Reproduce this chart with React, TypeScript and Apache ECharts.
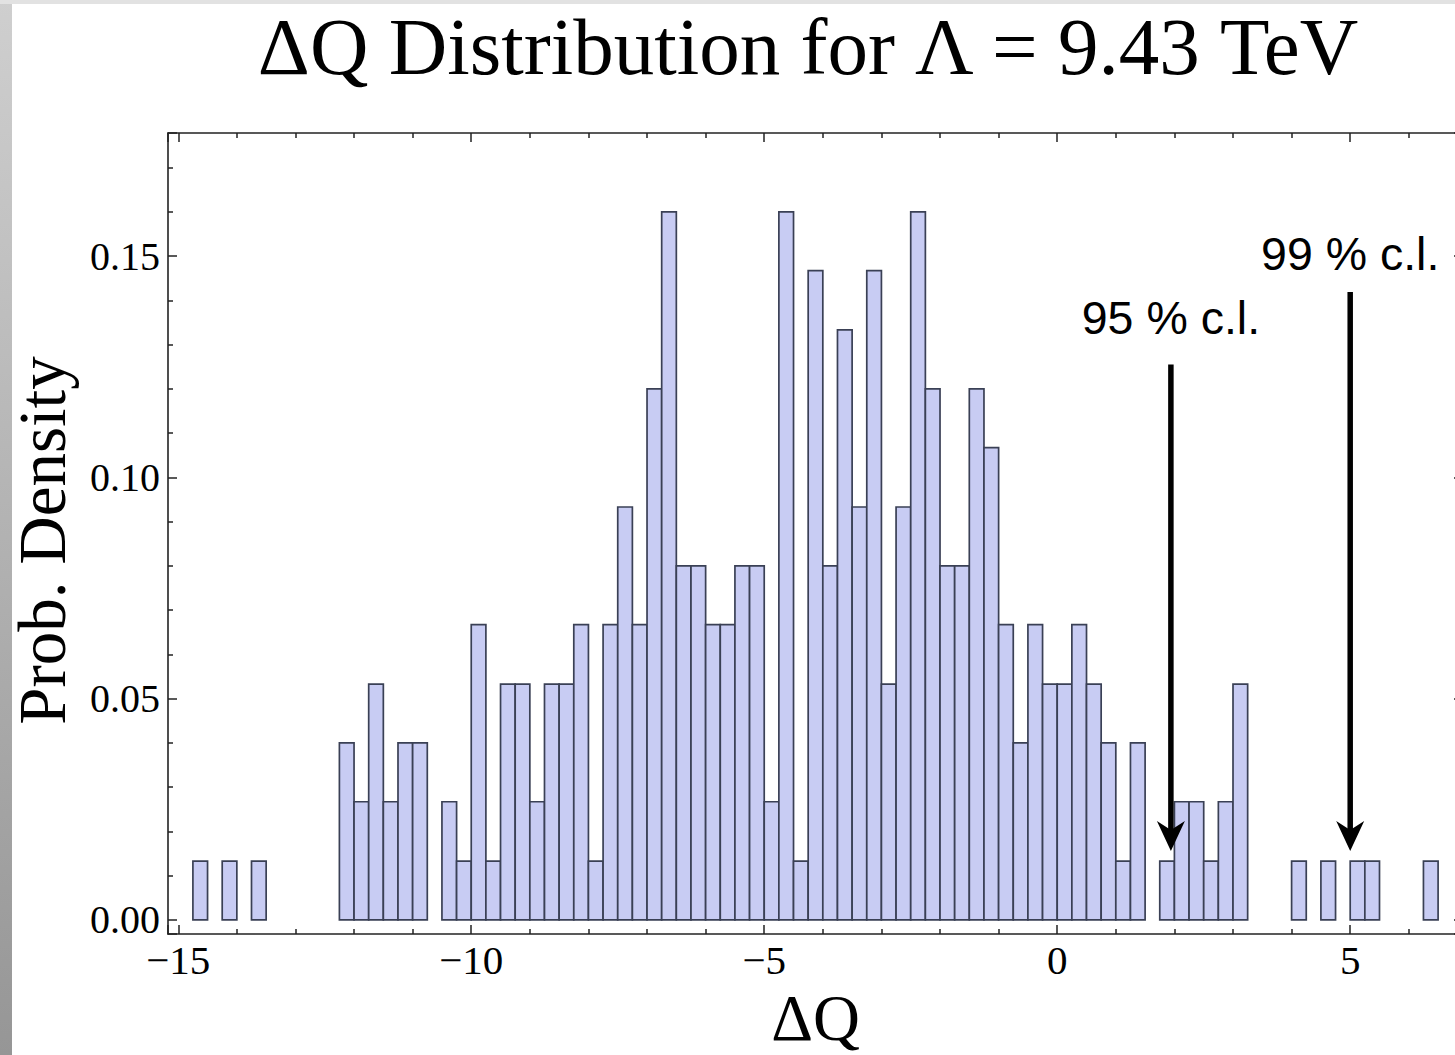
import { useEffect, useRef } from 'react';
import * as echarts from 'echarts';

// ---------- data ----------
const BIN_WIDTH = 0.25;
const binStarts = [
  -14.75, -14.25, -13.75,
  -12.25, -12, -11.75, -11.5, -11.25, -11,
  -10.5, -10.25, -10, -9.75, -9.5, -9.25, -9, -8.75, -8.5, -8.25, -8, -7.75,
  -7.5, -7.25, -7, -6.75, -6.5, -6.25, -6, -5.75, -5.5, -5.25, -5, -4.75,
  -4.5, -4.25, -4, -3.75, -3.5, -3.25, -3, -2.75, -2.5, -2.25, -2, -1.75,
  -1.5, -1.25, -1, -0.75, -0.5, -0.25, 0, 0.25, 0.5, 0.75, 1, 1.25,
  1.75, 2, 2.25, 2.5, 2.75, 3,
  4, 4.5, 5, 5.25, 6.25,
];
const densities = [
  0.0133, 0.0133, 0.0133,
  0.04, 0.0267, 0.0533, 0.0267, 0.04, 0.04,
  0.0267, 0.0133, 0.0667, 0.0133, 0.0533, 0.0533, 0.0267, 0.0533, 0.0533, 0.0667, 0.0133, 0.0667,
  0.0933, 0.0667, 0.12, 0.16, 0.08, 0.08, 0.0667, 0.0667, 0.08, 0.08, 0.0267, 0.16,
  0.0133, 0.1467, 0.08, 0.1333, 0.0933, 0.1467, 0.0533, 0.0933, 0.16, 0.12, 0.08, 0.08,
  0.12, 0.1067, 0.0667, 0.04, 0.0667, 0.0533, 0.0533, 0.0667, 0.0533, 0.04, 0.0133, 0.04,
  0.0133, 0.0267, 0.0267, 0.0133, 0.0267, 0.0533,
  0.0133, 0.0133, 0.0133, 0.0133, 0.0133,
];

const xTickLabels = ['−15', '−10', '−5', '0', '5'];
const yTickLabels = ['0.00', '0.05', '0.10', '0.15'];

// confidence-level arrows
const clLabels = ['95 % c.l.', '99 % c.l.'];
const clX = [1.94, 5.0];
const clTop = [0.1255, 0.1419];
const clTip = [0.0156, 0.0156];
const clLabelY = [0.136, 0.1505];

const X_MIN = -15.175;
const X_MAX = 6.925;
const Y_MIN = -0.0032;
const Y_MAX = 0.1778;

const TITLE = 'ΔQ Distribution for Λ = 9.43 TeV';
const X_NAME = 'ΔQ';
const Y_NAME = 'Prob. Density';

const SERIF = 'Liberation Serif';
const SANS = 'Liberation Sans';
const FRAME = '#222';

export default function App() {
  const ref = useRef<HTMLDivElement>(null);

  useEffect(() => {
    if (!ref.current) return;
    const chart = echarts.init(ref.current, undefined, { renderer: 'svg' });

    const fmtX = (v: number) => {
      const s = String(Math.abs(v));
      const lbl = (v < 0 ? '−' : '') + s;
      return xTickLabels.includes(lbl) ? lbl : '';
    };
    const fmtY = (v: number) => {
      const lbl = v.toFixed(2);
      return yTickLabels.includes(lbl) ? lbl : '';
    };

    const tickStyle = { color: FRAME, width: 1.5 };
    const baseX = {
      type: 'value' as const,
      min: X_MIN,
      max: X_MAX,
      minInterval: 5,
      maxInterval: 5,
      splitLine: { show: false },
      axisLine: { show: true, onZero: false, lineStyle: { color: FRAME, width: 1.6 } },
      axisTick: { show: true, inside: true, length: 9, lineStyle: tickStyle },
      minorTick: { show: true, splitNumber: 5, length: 5, lineStyle: tickStyle },
    };
    const baseY = {
      type: 'value' as const,
      min: Y_MIN,
      max: Y_MAX,
      minInterval: 0.05,
      maxInterval: 0.05,
      splitLine: { show: false },
      axisLine: { show: true, onZero: false, lineStyle: { color: FRAME, width: 1.6 } },
      axisTick: { show: true, inside: true, length: 9, lineStyle: tickStyle },
      minorTick: { show: true, splitNumber: 5, length: 5, lineStyle: tickStyle },
    };

    chart.setOption({
      animation: false,
      backgroundColor: '#ffffff',
      grid: { left: 165.7, right: 17, top: 133, bottom: 120, containLabel: false },
      xAxis: [
        {
          ...baseX,
          position: 'bottom',
          name: X_NAME,
          nameLocation: 'middle',
          nameGap: 36,
          nameTextStyle: { fontFamily: SERIF, fontSize: 65, color: '#000' },
          axisLabel: {
            show: true,
            margin: 5,
            showMinLabel: false,
            showMaxLabel: false,
            formatter: fmtX,
            fontFamily: SERIF,
            fontSize: 41,
            color: '#000',
          },
        },
        {
          ...baseX,
          position: 'top',
          axisLabel: { show: false },
        },
      ],
      yAxis: [
        {
          ...baseY,
          position: 'left',
          name: Y_NAME,
          nameLocation: 'middle',
          nameRotate: 90,
          nameGap: 93,
          nameTextStyle: { fontFamily: SERIF, fontSize: 67, color: '#000', padding: [0, 14, 0, 0] },
          axisLabel: {
            show: true,
            margin: 8,
            showMinLabel: false,
            showMaxLabel: false,
            formatter: fmtY,
            fontFamily: SERIF,
            fontSize: 40,
            color: '#000',
          },
        },
        {
          ...baseY,
          position: 'right',
          axisLabel: { show: false },
        },
      ],
      graphic: [
        {
          type: 'rect',
          left: 0,
          top: 0,
          shape: { x: 0, y: 0, width: 12, height: 1055 },
          style: {
            fill: new echarts.graphic.LinearGradient(0, 0, 0, 1, [
              { offset: 0, color: '#cfcfcf' },
              { offset: 1, color: '#969696' },
            ]),
          },
          silent: true,
        },
        {
          type: 'rect',
          left: 0,
          top: 0,
          shape: { x: 0, y: 0, width: 1480, height: 4 },
          style: { fill: '#e2e2e2' },
          silent: true,
        },
        {
          type: 'text',
          x: 808,
          y: 47,
          style: {
            text: TITLE,
            fontFamily: SERIF,
            fontSize: 81,
            fill: '#000',
            align: 'center',
            verticalAlign: 'middle',
          },
        },
      ],
      series: [
        {
          type: 'custom',
          xAxisIndex: 0,
          yAxisIndex: 0,
          data: binStarts.map((b, i) => [b, densities[i]]),
          encode: { x: 0, y: 1 },
          renderItem: (_params: any, api: any) => {
            const x0 = api.value(0);
            const y = api.value(1);
            const p0 = api.coord([x0, 0]);
            const p1 = api.coord([x0 + BIN_WIDTH, y]);
            return {
              type: 'rect',
              shape: { x: p0[0], y: p1[1], width: p1[0] - p0[0], height: p0[1] - p1[1] },
              style: { fill: '#c8ccf3', stroke: '#3a4055', lineWidth: 1.7 },
            };
          },
        },
        {
          type: 'custom',
          xAxisIndex: 0,
          yAxisIndex: 0,
          clip: false,
          data: clX.map((x, i) => [x, clTop[i], clTip[i], clLabelY[i]]),
          encode: { x: 0, y: 1 },
          renderItem: (params: any, api: any) => {
            const x = api.value(0);
            const top = api.coord([x, api.value(1)]);
            const tip = api.coord([x, api.value(2)]);
            const lab = api.coord([x, api.value(3)]);
            const headH = 30;
            const headW = 28;
            const notch = 9;
            return {
              type: 'group',
              children: [
                {
                  type: 'line',
                  shape: { x1: top[0], y1: top[1], x2: tip[0], y2: tip[1] - headH + notch + 2 },
                  style: { stroke: '#000', lineWidth: 5.5 },
                },
                {
                  type: 'polygon',
                  shape: {
                    points: [
                      [tip[0], tip[1]],
                      [tip[0] - headW / 2, tip[1] - headH],
                      [tip[0], tip[1] - headH + notch],
                      [tip[0] + headW / 2, tip[1] - headH],
                    ],
                  },
                  style: { fill: '#000' },
                },
                {
                  type: 'text',
                  x: lab[0],
                  y: lab[1],
                  style: {
                    text: clLabels[params.dataIndex],
                    fontFamily: SANS,
                    fontSize: 46.5,
                    fill: '#000',
                    align: 'center',
                    verticalAlign: 'middle',
                  },
                },
              ],
            };
          },
        },
      ],
    });

    return () => chart.dispose();
  }, []);

  return (
    <div
      style={{
        position: 'fixed',
        left: 0,
        top: 0,
        width: 1455,
        height: 1055,
        overflow: 'hidden',
        background: '#fff',
      }}
    >
      <div ref={ref} style={{ width: 1480, height: 1055 }} />
    </div>
  );
}
